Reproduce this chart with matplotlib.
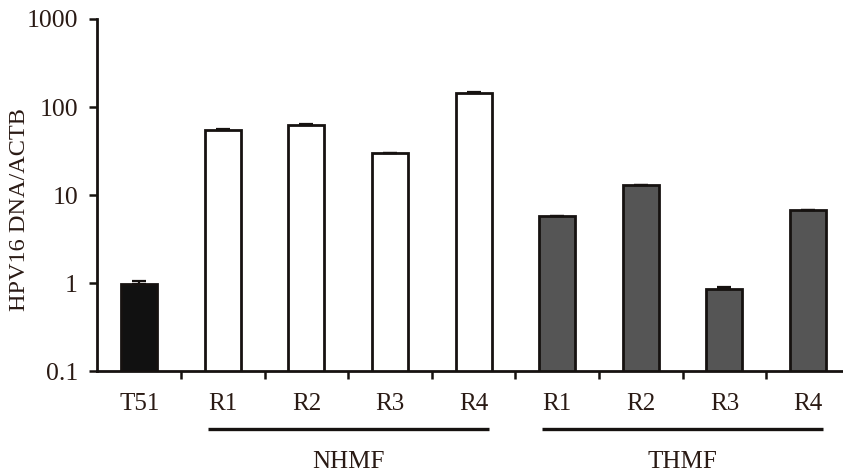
import matplotlib
matplotlib.use("Agg")
import matplotlib.pyplot as plt
import numpy as np

plt.rcParams['font.family'] = ['Liberation Serif', 'DejaVu Serif']

# Relative HPV16 DNA copy number (normalised to ACTB)
labels = ["T51", "R1", "R2", "R3", "R4", "R1", "R2", "R3", "R4"]
groups = ["T51", "NHMF", "NHMF", "NHMF", "NHMF", "THMF", "THMF", "THMF", "THMF"]
values = [0.97, 55, 63, 30, 145, 5.7, 13, 0.85, 6.7]
errors = [0.08, 0.8, 1.0, 0.4, 2.0, 0.08, 0.15, 0.05, 0.1]

group_names = ["NHMF", "THMF"]
yticks = [0.1, 1, 10, 100, 1000]
ytick_labels = ["0.1", "1", "10", "100", "1000"]

fill = {"T51": "#111111", "NHMF": "#ffffff", "THMF": "#555555"}
edge = "#161210"
text_color = "#2a1a14"

fig = plt.figure(figsize=(8.43, 4.75), dpi=100)
ax = fig.add_axes([97.4 / 843, 104 / 475, 752.4 / 843, 352 / 475])

x = np.arange(len(values))
colors = [fill[g] for g in groups]
ax.bar(x, values, width=0.43, color=colors, edgecolor=edge, linewidth=2.0,
       zorder=2)
ax.errorbar(x, values, yerr=[np.zeros(len(errors)), errors], fmt="none",
            ecolor=edge, elinewidth=1.6, capsize=5, capthick=1.6, zorder=3)

ax.set_yscale("log")
ax.set_ylim(0.1, 1000)
ax.set_xlim(-0.5, len(values) - 0.5)
ax.set_yticks(yticks)
ax.set_yticklabels(ytick_labels)
ax.minorticks_off()

# ticks on the x axis sit between the bars
ax.set_xticks(np.arange(len(values) - 1) + 0.5)
ax.set_xticklabels([])
ax.tick_params(axis="x", direction="out", length=6, width=1.8, color=edge)
ax.tick_params(axis="y", direction="out", length=6, width=1.8, color=edge,
               labelsize=18.5, pad=8, labelcolor=text_color)

for s in ["top", "right"]:
    ax.spines[s].set_visible(False)
for s in ["left", "bottom"]:
    ax.spines[s].set_linewidth(2.0)
    ax.spines[s].set_color(edge)

ax.set_ylabel("HPV16 DNA/ACTB", fontsize=17.5, color=text_color,
              va="center", ha="center")
ax.yaxis.set_label_coords(-77.4 / 752.4, 161 / 352)

# category labels under each bar
for xi, lab in zip(x, labels):
    ax.annotate(lab, xy=(xi, 0), xycoords=("data", "axes fraction"),
                xytext=(0, -23.5), textcoords="offset points",
                ha="center", va="center", fontsize=18, color=text_color)

# group brackets with names
for name in group_names:
    idx = [i for i, g in enumerate(groups) if g == name]
    x0, x1 = idx[0] - 0.18, idx[-1] + 0.18
    line_y = -58 / 352
    ax.plot([x0, x1], [line_y, line_y], transform=ax.get_xaxis_transform(),
            color=edge, linewidth=2.4, clip_on=False, solid_capstyle="butt")
    ax.annotate(name, xy=((x0 + x1) / 2, 0), xycoords=("data", "axes fraction"),
                xytext=(0, -65.5), textcoords="offset points",
                ha="center", va="center", fontsize=18, color=text_color)

fig.savefig("out.png", dpi=100)
